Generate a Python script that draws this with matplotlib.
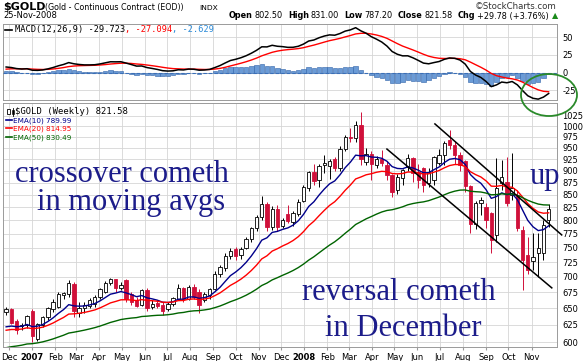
import numpy as np
import pandas as pd
import matplotlib
matplotlib.use("Agg")
import matplotlib.pyplot as plt
from matplotlib.patches import Ellipse, Rectangle
from matplotlib.lines import Line2D
from matplotlib.ticker import FixedLocator, FixedFormatter, NullLocator

W, H, DPI = 584, 361, 100

# ---------------- data (weekly $GOLD, weeks starting 2006-11-27) ----------------
first_week = "2006-11-27"
opens = [644, 649, 630, 623, 624, 645, 605, 625, 636, 648,
         652, 671, 672, 688, 643, 650, 654, 656, 667, 676,
         690, 696, 682, 694, 672, 662, 655, 678, 652, 658,
         655, 648, 657, 665, 682, 665, 683, 675, 662, 670,
         680, 705, 714, 735, 748, 738, 750, 765, 785, 806,
         832, 787, 822, 790, 812, 797, 812, 838, 864, 897,
         880, 912, 910, 925, 905, 948, 975, 972, 1002, 918,
         936, 912, 925, 912, 891, 860, 884, 908, 927, 897,
         905, 873, 880, 916, 934, 968, 957, 934, 920, 867,
         794, 833, 826, 814, 773, 873, 877, 850, 850, 782,
         737, 726, 740, 740, 801]
highs = [652, 651, 633, 628, 640, 648, 628, 638, 652, 664,
         676, 676, 694, 692, 660, 660, 666, 670, 682, 693,
         698, 697, 692, 696, 676, 668, 680, 682, 662, 663,
         660, 660, 668, 688, 684, 686, 688, 680, 675, 682,
         710, 720, 740, 750, 752, 752, 770, 788, 810, 848,
         835, 828, 830, 805, 830, 818, 842, 870, 900, 914,
         915, 934, 925, 930, 953, 978, 995, 1011, 1034, 950,
         942, 932, 946, 920, 893, 892, 904, 935, 930, 915,
         908, 905, 932, 947, 966, 990, 965, 940, 922, 870,
         837, 845, 834, 816, 927, 923, 930, 938, 860, 790,
         770, 777, 776, 800, 831]
lows = [640, 626, 612, 618, 620, 600, 602, 622, 632, 644,
        650, 665, 668, 636, 636, 642, 650, 652, 665, 674,
        686, 675, 678, 660, 655, 652, 653, 645, 648, 650,
        640, 646, 654, 663, 660, 662, 664, 642, 660, 665,
        678, 700, 710, 730, 728, 730, 748, 760, 780, 800,
        780, 782, 780, 785, 795, 790, 808, 835, 858, 870,
        866, 895, 882, 900, 900, 942, 962, 964, 913, 912,
        880, 905, 910, 880, 846, 852, 870, 900, 876, 864,
        856, 866, 870, 912, 913, 947, 915, 899, 856, 776,
        783, 810, 786, 740, 760, 860, 827, 840, 780, 679,
        705, 711, 700, 729, 787.2]
closes = [649, 628, 618, 625, 638, 608, 626, 636, 650, 660,
          672, 674, 690, 645, 651, 655, 662, 667, 680, 690,
          696, 682, 687, 664, 659, 653, 678, 650, 657, 653,
          645, 656, 666, 682, 664, 683, 668, 655, 672, 680,
          705, 716, 736, 745, 735, 748, 765, 785, 806, 832,
          787, 822, 788, 800, 798, 814, 836, 866, 896, 878,
          910, 916, 920, 906, 948, 975, 972, 1002, 925, 935,
          915, 926, 917, 891, 856, 887, 901, 927, 894, 880,
          870, 897, 930, 934, 960, 957, 934, 912, 867, 794,
          833, 840, 801, 764, 863, 887, 833, 863, 785, 728,
          711, 734, 749, 791, 821.58]

ema_periods = [10, 20, 50]
ema_seeds = [622, 617, 592]
ema_colors = ["#00008b", "#ff0000", "#006400"]
ema_labels = ["EMA(10) 789.99", "EMA(20) 814.95", "EMA(50) 830.49"]
macd_fast_seed, macd_slow_seed, macd_signal_seed = 630, 622, 5

month_labels = ["Dec", "2007", "Feb", "Mar", "Apr", "May", "Jun", "Jul", "Aug",
                "Sep", "Oct", "Nov", "Dec", "2008", "Feb", "Mar", "Apr", "May",
                "Jun", "Jul", "Aug", "Sep", "Oct", "Nov"]
month_starts = pd.date_range("2006-12-01", "2008-11-01", freq="MS")

price_ticks = [600, 625, 650, 675, 700, 725, 750, 775, 800, 825, 850, 875,
               900, 925, 950, 975, 1000, 1025]
macd_ticks = [50, 25, 0, -25]

# trend channel endpoints (week index, price)
trend_lines = [((73.0, 947), (104.6, 682)),
               ((82.2, 1005), (106.5, 773))]

# ---------------- computations ----------------
opens = np.array(opens, float); highs = np.array(highs, float)
lows = np.array(lows, float); closes = np.array(closes, float)
n = len(closes)
x = np.arange(n)
week0 = pd.Timestamp(first_week)
month_pos = [(m - week0).days / 7.0 for m in month_starts]


def ema(values, period, seed):
    a = 2.0 / (period + 1)
    out = [seed]
    for v in values[1:]:
        out.append(out[-1] + a * (v - out[-1]))
    return np.array(out)


emas = [ema(closes, p, s) for p, s in zip(ema_periods, ema_seeds)]
macd = ema(closes, 12, macd_fast_seed) - ema(closes, 26, macd_slow_seed)
signal = ema(macd, 9, macd_signal_seed)
hist = macd - signal

# ---------------- figure ----------------
fig = plt.figure(figsize=(W / DPI, H / DPI), dpi=DPI)
fig.patch.set_facecolor("white")


def rect(l, t, r, b):
    return [l / W, 1 - b / H, (r - l) / W, (b - t) / H]


def fx(px):
    return px / W


def fy(py):
    return 1 - py / H


grid_c = "#d6d6d6"
spine_c = "#9a9a9a"
xlim = (-0.6, 105.6)

# MACD panel
ax_m = fig.add_axes(rect(3, 24, 557, 100))
ax_m.set_xlim(*xlim)
ax_m.set_ylim(-38.5, 68.6)
ax_m.bar(x, hist, width=0.85, color="#6b9bd6", edgecolor="#2f62a8", linewidth=0.4, zorder=2)
ax_m.axhline(0, color="#3a6fb8", lw=0.8, ls=(0, (3, 2)), zorder=3)
ax_m.plot(x, signal, color="#ff0000", lw=1.0, zorder=4)
ax_m.plot(x, macd, color="black", lw=1.1, zorder=5)
ax_m.xaxis.set_major_locator(FixedLocator(month_pos))
ax_m.yaxis.set_major_locator(FixedLocator(macd_ticks))
ax_m.yaxis.set_major_formatter(FixedFormatter([str(v) for v in macd_ticks]))
ax_m.yaxis.tick_right()
ax_m.tick_params(axis="y", labelsize=6, length=0, pad=4)
ax_m.tick_params(axis="x", labelbottom=False, length=0)
ax_m.grid(True, color=grid_c, lw=0.6, zorder=0)
for s in ax_m.spines.values():
    s.set_color(spine_c); s.set_linewidth(0.7)

# Price panel
ax_p = fig.add_axes(rect(3, 103, 557, 347))
ax_p.set_yscale("log")
ax_p.set_xlim(*xlim)
ax_p.set_ylim(593, 1056)
red = "#d0103a"
up = closes >= opens
face = np.where(up, "white", red)
edge = np.where(up, "black", red)
ax_p.vlines(x, lows, highs, colors=edge, lw=0.7, zorder=3)
body_bottom = np.minimum(opens, closes)
body_h = np.maximum(np.abs(closes - opens), 0.8)
ax_p.bar(x, body_h, bottom=body_bottom, width=0.64, color=face, edgecolor=edge,
         linewidth=0.6, zorder=4)
for e, c in zip(emas, ema_colors):
    ax_p.plot(x, e, color=c, lw=1.0, zorder=5)
for (x0, p0), (x1, p1) in trend_lines:
    ax_p.plot([x0, x1], [p0, p1], color="black", lw=1.1, zorder=6, clip_on=False)

ax_p.yaxis.set_major_locator(FixedLocator(price_ticks))
ax_p.yaxis.set_major_formatter(FixedFormatter([str(v) for v in price_ticks]))
ax_p.yaxis.set_minor_locator(NullLocator())
ax_p.yaxis.tick_right()
ax_p.tick_params(axis="y", labelsize=6, length=0, pad=4)
ax_p.xaxis.set_major_locator(FixedLocator(month_pos))
ax_p.xaxis.set_major_formatter(FixedFormatter(month_labels))
ax_p.tick_params(axis="x", labelsize=6, length=2, color=spine_c, pad=2.5)
for lab in ax_p.get_xticklabels():
    if lab.get_text().isdigit():
        lab.set_fontweight("bold")
ax_p.grid(True, color=grid_c, lw=0.6, zorder=0)
for s in ax_p.spines.values():
    s.set_color(spine_c); s.set_linewidth(0.7)

# ---------------- header texts ----------------
renderer = fig.canvas.get_renderer()
fig.text(fx(3), fy(10), "$GOLD", fontsize=8, fontweight="bold", va="baseline")
fig.text(fx(45), fy(10), "(Gold - Continuous Contract (EOD))", fontsize=5.7, va="baseline")
fig.text(fx(199), fy(10), "INDX", fontsize=5.4, va="baseline")
fig.text(fx(3), fy(18.5), "25-Nov-2008", fontsize=6.0, va="baseline")
fig.text(fx(557), fy(9), "\u00a9StockCharts.com", fontsize=6.2, va="baseline", ha="right",
         color="#333333")

parts = [("Open", "bold", "black", 2), ("802.50", "normal", "black", 5),
         ("High", "bold", "black", 2), ("831.00", "normal", "black", 5),
         ("Low", "bold", "black", 2), ("787.20", "normal", "black", 5),
         ("Close", "bold", "black", 2), ("821.58", "normal", "black", 5),
         ("Chg", "bold", "black", 2), ("+29.78 (+3.76%)", "normal", "black", 3),
         ("\u25b2", "normal", "#1a8a1a", 0)]
objs = []
xpos = 0
for s, wgt, col, gap in parts:
    t = fig.text(fx(xpos), fy(18.5), s, fontsize=5.9, fontweight=wgt, color=col, va="baseline")
    bb = t.get_window_extent(renderer)
    objs.append((t, xpos))
    xpos = xpos + bb.width + gap
shift = 558 - xpos
for t, xp in objs:
    t.set_x(fx(xp + shift))

# MACD legend
fig.add_artist(Line2D([fx(5), fx(12)], [fy(29.5), fy(29.5)], color="black", lw=1.2))
mparts = [("MACD(12,26,9) -29.723", "black"), (", -27.094", "red"), (", -2.629", "#2a8ad8")]
xpos = 15
for s, col in mparts:
    t = fig.text(fx(xpos), fy(32), s, fontsize=6.2, color=col, va="baseline",
                 family="DejaVu Sans Mono")
    xpos += t.get_window_extent(renderer).width

# price legend
fig.add_artist(Rectangle((fx(7), fy(114)), 3 / W, 5 / H, transform=fig.transFigure,
                         fc="white", ec="black", lw=0.6))
fig.add_artist(Line2D([fx(12.5), fx(12.5)], [fy(116), fy(108)], color="black", lw=0.6))
fig.add_artist(Rectangle((fx(11.5), fy(114)), 2 / W, 4 / H, transform=fig.transFigure,
                         fc="black", ec="black", lw=0.4))
fig.text(fx(15), fy(114), "$GOLD (Weekly) 821.58", fontsize=6.4, va="baseline",
         family="DejaVu Sans Mono")
for k, (lab, col) in enumerate(zip(ema_labels, ema_colors)):
    yb = 122.5 + 8.3 * k
    fig.add_artist(Line2D([fx(6), fx(12)], [fy(yb - 2.5), fy(yb - 2.5)], color=col, lw=1.2))
    fig.text(fx(13), fy(yb), lab, fontsize=5.2, color=col, va="baseline")

# annotations
navy = "#1c1c8a"
serif = "Liberation Serif"
fig.text(fx(15), fy(182), "crossover cometh", fontsize=22, color=navy, family=serif, va="baseline")
fig.text(fx(37), fy(210), "in moving avgs", fontsize=22, color=navy, family=serif, va="baseline")
fig.text(fx(302), fy(300), "reversal cometh", fontsize=22, color=navy, family=serif, va="baseline")
fig.text(fx(325), fy(336), "in December", fontsize=22, color=navy, family=serif, va="baseline")
fig.text(fx(530), fy(184), "up", fontsize=22, color=navy, family=serif, va="baseline")

fig.add_artist(Ellipse((fx(549), fy(95)), 56 / W, 42 / H, transform=fig.transFigure,
                       fill=False, ec="#2a8a2a", lw=1.3))

fig.savefig("out.png", dpi=DPI, facecolor="white")
